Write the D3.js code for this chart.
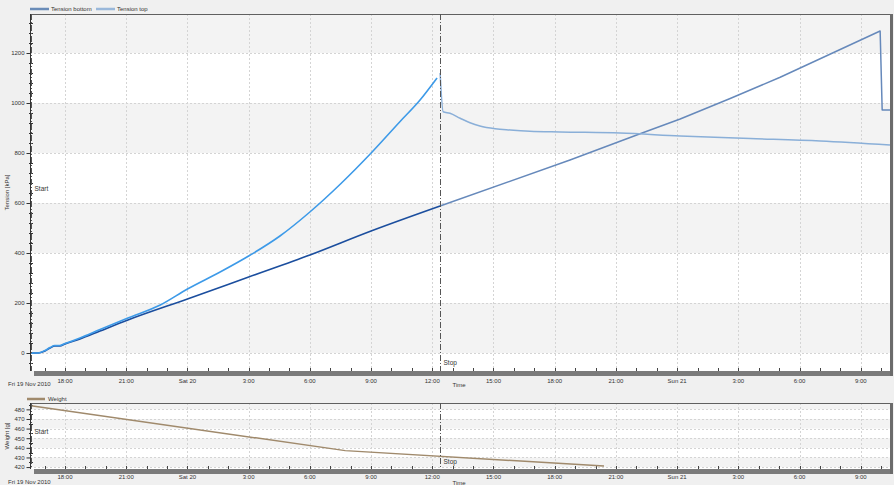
<!DOCTYPE html>
<html>
<head>
<meta charset="utf-8">
<script src="https://cdn.jsdelivr.net/npm/d3@7"></script>
<style>
  html, body { margin: 0; padding: 0; background: #f0f0f0; }
  svg { display: block; font-family: "Liberation Sans", Arial, sans-serif; }
</style>
</head>
<body>
<svg id="chart" width="894" height="485"></svg>
<script>
// ---- data (times as "day hour:minute" in Nov 2010) ----
const domainTimes = ["2010-11-19 16:17", "2010-11-21 10:26"];
const startTime = "2010-11-19 16:19";
const stopTime = "2010-11-20 12:23";

const bottomPreTimes = ["2010-11-19 16:20","2010-11-19 16:40","2010-11-19 17:01","2010-11-19 17:16","2010-11-19 17:30","2010-11-19 17:45","2010-11-19 18:00","2010-11-19 18:44","2010-11-19 19:43","2010-11-19 21:05","2010-11-20 00:00","2010-11-20 03:00","2010-11-20 06:00","2010-11-20 09:00","2010-11-20 12:23"];
const bottomPreValues = [0, 0, 8, 20, 28, 28, 36, 56, 88, 132, 216, 304, 392, 488, 588];

const topPreTimes = ["2010-11-19 16:20","2010-11-19 16:40","2010-11-19 17:01","2010-11-19 17:16","2010-11-19 17:30","2010-11-19 17:45","2010-11-19 18:00","2010-11-19 18:44","2010-11-19 19:43","2010-11-19 21:05","2010-11-19 22:40","2010-11-20 00:00","2010-11-20 01:36","2010-11-20 03:00","2010-11-20 04:32","2010-11-20 06:00","2010-11-20 07:30","2010-11-20 09:03","2010-11-20 10:24","2010-11-20 11:24","2010-11-20 12:14"];
const topPreValues = [0, 0, 10, 22, 30, 30, 38, 60, 94, 140, 192, 256, 324, 388, 468, 564, 676, 804, 924, 1012, 1100];

const bottomPostTimes = ["2010-11-20 12:23","2010-11-20 18:45","2010-11-20 22:17","2010-11-21 00:09","2010-11-21 02:36","2010-11-21 05:03","2010-11-21 09:57","2010-11-21 10:03","2010-11-21 10:26"];
const bottomPostValues = [588, 772, 880, 936, 1018, 1103, 1288, 972, 972];

const topPostTimes = ["2010-11-20 12:23","2010-11-20 12:32","2010-11-20 12:52","2010-11-20 13:22","2010-11-20 13:51","2010-11-20 14:20","2010-11-20 15:05","2010-11-20 15:49","2010-11-20 16:47","2010-11-20 18:16","2010-11-20 21:12","2010-11-21 00:09","2010-11-21 03:35","2010-11-21 07:01","2010-11-21 10:26"];
const topPostValues = [1120, 965, 959, 939, 921, 908, 897, 892, 887, 884, 880, 868, 858, 848, 832];

const weightTimes = ["2010-11-19 16:20","2010-11-20 07:44","2010-11-20 20:25"];
const weightValues = [483.7, 437.1, 421.1];

const tensionTicks = [0, 200, 400, 600, 800, 1000, 1200];
const weightTicks = [420, 430, 440, 450, 460, 470, 480];
const seriesNames = ["Tension bottom", "Tension top"];

// ---- helpers ----
const parse = d3.timeParse("%Y-%m-%d %H:%M");
const zip = (ts, vs) => ts.map((t, i) => ({ t: parse(t), v: vs[i] }));

const svg = d3.select("#chart");
const X0 = 30, X1 = 890;
const x = d3.scaleTime().domain(domainTimes.map(parse)).range([X0, X1]);

const fmtTick = d => d.getHours() === 0 ? d3.timeFormat("%a %-d")(d) : d3.timeFormat("%-H:%M")(d);
const majorTicks = d3.timeHour.every(3).range(x.domain()[0], x.domain()[1]);
const minorTicks = d3.timeHour.every(1).range(x.domain()[0], x.domain()[1]);

function panel(cfg) {
  const { top, bottom, y, ticks, minorStep, bandStep, bandStart, label, labelOffset } = cfg;
  const g = svg.append("g");
  g.append("rect").attr("x", X0).attr("y", top).attr("width", X1 - X0).attr("height", bottom - top).attr("fill", "#ffffff");
  const [dlo, dhi] = y.domain();
  const bands = [];
  for (let v = bandStart; v < dhi; v += 2 * bandStep) bands.push([v, Math.min(v + bandStep, dhi)]);
  g.selectAll(".band").data(bands).join("rect")
    .attr("x", X0).attr("width", X1 - X0)
    .attr("y", d => y(d[1])).attr("height", d => y(d[0]) - y(d[1]))
    .attr("fill", "#f3f3f3");
  g.selectAll(".hg").data(ticks).join("line")
    .attr("x1", X0).attr("x2", X1).attr("y1", d => Math.round(y(d)) + 0.5).attr("y2", d => Math.round(y(d)) + 0.5)
    .attr("stroke", "#d4d4d4").attr("stroke-dasharray", "2,2");
  g.selectAll(".vg").data(majorTicks).join("line")
    .attr("x1", d => Math.round(x(d)) + 0.5).attr("x2", d => Math.round(x(d)) + 0.5)
    .attr("y1", top).attr("y2", bottom)
    .attr("stroke", "#d4d4d4").attr("stroke-dasharray", "2,2");
  g.append("line").attr("x1", X0).attr("x2", X1 + 3).attr("y1", top + 0.5).attr("y2", top + 0.5).attr("stroke", "#606060");
  g.append("rect").attr("x", X1).attr("y", top).attr("width", 3).attr("height", bottom - top + 5).attr("fill", "#6b6b6b");
  g.append("rect").attr("x", X0 + 4).attr("y", bottom).attr("width", X1 - X0 - 4).attr("height", 5).attr("fill", "#7b7b7b");
  g.selectAll(".mt").data(minorTicks).join("line")
    .attr("x1", d => Math.round(x(d)) + 0.5).attr("x2", d => Math.round(x(d)) + 0.5)
    .attr("y1", bottom - 3).attr("y2", bottom)
    .attr("stroke", "#444");
  g.selectAll(".xl").data(majorTicks).join("text")
    .attr("x", d => x(d)).attr("y", bottom + labelOffset)
    .attr("text-anchor", "middle").attr("font-size", 6).attr("fill", "#333")
    .text(fmtTick);
  const yAxis = d3.axisLeft(y).tickValues(ticks).tickFormat(d3.format("d")).tickSize(4).tickPadding(2);
  const ax = g.append("g").attr("transform", `translate(${X0 + 0.5},0)`).call(yAxis);
  ax.select(".domain").attr("stroke", "#333").attr("d", `M0,${top}V${bottom}`);
  ax.selectAll(".tick line").attr("stroke", "#333");
  ax.selectAll(".tick text").attr("font-size", 6).attr("fill", "#333").attr("font-family", "Liberation Sans, Arial, sans-serif");
  const minors = d3.range(Math.ceil(dlo / minorStep) * minorStep, dhi, minorStep).filter(v => !ticks.includes(v));
  g.selectAll(".ym").data(minors).join("line")
    .attr("x1", X0 - 1).attr("x2", X0 + 3).attr("y1", d => Math.round(y(d)) + 0.5).attr("y2", d => Math.round(y(d)) + 0.5)
    .attr("stroke", "#333");
  g.append("text").attr("transform", `translate(9,${(top + bottom) / 2}) rotate(-90)`)
    .attr("text-anchor", "middle").attr("font-size", 6).attr("fill", "#333").text(label);
  return g;
}

function markers(g, top, bottom, startY, stopY) {
  const xs = Math.round(x(parse(startTime))) + 0.5, xe = Math.round(x(parse(stopTime))) + 0.5;
  g.append("line").attr("x1", xs).attr("x2", xs).attr("y1", top).attr("y2", bottom)
    .attr("stroke", "#555").attr("stroke-dasharray", "6,2,1,2");
  g.append("line").attr("x1", xe).attr("x2", xe).attr("y1", top).attr("y2", bottom)
    .attr("stroke", "#555").attr("stroke-dasharray", "6,2,1,2");
  g.append("text").attr("x", xs + 3).attr("y", startY).attr("font-size", 6.5).attr("fill", "#333").text("Start");
  g.append("text").attr("x", xe + 3).attr("y", stopY).attr("font-size", 6.5).attr("fill", "#333").text("Stop");
}

// ---- top panel ----
const T0 = 14, T1 = 371;
const yT = d3.scaleLinear().domain([-72, 1356]).range([T1, T0]);
const gT = panel({ top: T0, bottom: T1, y: yT, ticks: tensionTicks, minorStep: 40, bandStep: 200, bandStart: 0, label: "Tension [kPa]", labelOffset: 12 });

const smooth = d3.line().x(d => x(d.t)).y(d => yT(d.v)).curve(d3.curveMonotoneX);
const straight = d3.line().x(d => x(d.t)).y(d => yT(d.v));
const tSeries = [
  { data: zip(bottomPreTimes, bottomPreValues), color: "#1b4e9e", w: 1.6, gen: smooth },
  { data: zip(topPreTimes, topPreValues), color: "#3d9ae8", w: 1.6, gen: smooth },
  { data: zip(bottomPostTimes, bottomPostValues), color: "#6689bb", w: 1.5, gen: straight },
  { data: zip(topPostTimes, topPostValues), color: "#8aafd8", w: 1.5, gen: smooth }
];
svg.append("clipPath").attr("id", "clipT").append("rect").attr("x", X0).attr("y", T0).attr("width", X1 - X0).attr("height", T1 - T0);
gT.append("g").attr("clip-path", "url(#clipT)").selectAll("path").data(tSeries).join("path")
  .attr("d", d => d.gen(d.data)).attr("fill", "none").attr("stroke", d => d.color)
  .attr("stroke-width", d => d.w).attr("stroke-linejoin", "round");
markers(gT, T0, T1, 191, 365);

const legColors = ["#6a8cb8", "#9ab8da"];
const leg = svg.append("g");
const legX = [30, 96];
seriesNames.forEach((n, i) => {
  leg.append("line").attr("x1", legX[i]).attr("x2", legX[i] + 19).attr("y1", 9).attr("y2", 9)
    .attr("stroke", legColors[i]).attr("stroke-width", 2.5);
  leg.append("text").attr("x", legX[i] + 21).attr("y", 11).attr("font-size", 6).attr("fill", "#333").text(n);
});
svg.append("text").attr("x", 8).attr("y", 386).attr("font-size", 6).attr("fill", "#333").text("Fri 19  Nov 2010");
svg.append("text").attr("x", 459).attr("y", 387).attr("text-anchor", "middle").attr("font-size", 6).attr("fill", "#333").text("Time");

// ---- bottom panel ----
const B0 = 403, B1 = 469;
const yB = d3.scaleLinear().domain([418, 486.6]).range([B1, B0]);
const gB = panel({ top: B0, bottom: B1, y: yB, ticks: weightTicks, minorStep: 5, bandStep: 10, bandStart: 420, label: "Weight [g]", labelOffset: 10 });
const lineB = d3.line().x(d => x(d.t)).y(d => yB(d.v));
gB.append("path").attr("d", lineB(zip(weightTimes, weightValues))).attr("fill", "none")
  .attr("stroke", "#a08a6c").attr("stroke-width", 1.5);
markers(gB, B0, B1, 434, 464);
svg.append("line").attr("x1", 27).attr("x2", 45).attr("y1", 399).attr("y2", 399).attr("stroke", "#a08a6c").attr("stroke-width", 2.5);
svg.append("text").attr("x", 48).attr("y", 401).attr("font-size", 6).attr("fill", "#333").text("Weight");
svg.append("text").attr("x", 8).attr("y", 484).attr("font-size", 6).attr("fill", "#333").text("Fri 19  Nov 2010");
svg.append("text").attr("x", 459).attr("y", 484.5).attr("text-anchor", "middle").attr("font-size", 6).attr("fill", "#333").text("Time");
</script>
</body>
</html>
